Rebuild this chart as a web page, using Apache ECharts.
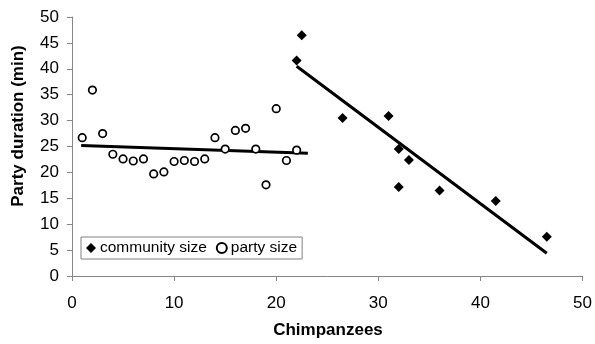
<!DOCTYPE html>
<html>
<head>
<meta charset="utf-8">
<script src="https://cdn.jsdelivr.net/npm/echarts@6/dist/echarts.min.js"></script>
<style>html,body{margin:0;padding:0;background:#fff}#c{width:595px;height:344px}</style>
</head>
<body>
<div id="c"></div>
<script>
// party size (open circles)
const partyX = [1,2,3,4,5,6,7,8,9,10,11,12,13,14,15,16,17,18,19,20,21,22];
const partyY = [26.7,35.9,27.5,23.5,22.6,22.2,22.6,19.7,20.1,22.1,22.3,22.1,22.6,26.7,24.5,28.1,28.5,24.5,17.6,32.3,22.3,24.3];
// community size (filled diamonds)
const commX = [22.5,22.0,26.5,31.0,32.0,33.0,32.0,36.0,41.5,46.5];
const commY = [46.5,41.6,30.5,30.9,24.5,22.4,17.2,16.5,14.5,7.6];
// trend line end points
const partyTrendX = [0.9,23.1];
const partyTrendY = [25.2,23.7];
const commTrendX = [22.0,46.5];
const commTrendY = [40.5,4.4];
// axis ticks
const xTicks = [0,10,20,30,40,50];
const yTicks = [0,5,10,15,20,25,30,35,40,45,50];

const zip = (a,b) => a.map((v,i)=>[v,b[i]]);
const FONT = 'Liberation Sans, Arial, sans-serif';
const axisGray = '#868686';

const chart = echarts.init(document.getElementById('c'), null, {renderer:'canvas'});
chart.setOption({
  animation:false,
  backgroundColor:'#fff',
  grid:{left:72, right:10, top:17, bottom:68, containLabel:false},
  xAxis:{
    type:'value', min:xTicks[0], max:xTicks[xTicks.length-1], interval:10,
    axisLine:{show:true, onZero:false, lineStyle:{color:axisGray, width:1}},
    axisTick:{show:true, length:5, lineStyle:{color:axisGray}},
    axisLabel:{color:'#000', fontFamily:FONT, fontSize:17, margin:19},
    splitLine:{show:false}
  },
  yAxis:{
    type:'value', min:yTicks[0], max:yTicks[yTicks.length-1], interval:5,
    axisLine:{show:true, onZero:false, lineStyle:{color:axisGray, width:1}},
    axisTick:{show:true, length:5, lineStyle:{color:axisGray}},
    axisLabel:{color:'#000', fontFamily:FONT, fontSize:17, margin:13},
    splitLine:{show:false}
  },
  legend:{
    left:81, top:237,
    orient:'horizontal',
    padding:[3,5,3,5],
    borderColor:'#808080', borderWidth:1,
    itemWidth:10, itemHeight:10, itemGap:9,
    textStyle:{color:'#000', fontFamily:FONT, fontSize:15.5, padding:[0,0,0,-1]},
    data:[
      {name:'community size', icon:'diamond'},
      {name:'party size', icon:'circle'}
    ]
  },
  graphic:[
    {type:'text', x:18, y:126, rotation:Math.PI/2,
     style:{text:'Party duration (min)', fill:'#000', font:'bold 17px '+FONT, align:'center', verticalAlign:'middle'}},
    {type:'text', x:328, y:330,
     style:{text:'Chimpanzees', fill:'#000', font:'bold 17px '+FONT, align:'center', verticalAlign:'middle'}}
  ],
  series:[
    {name:'community trend', type:'line', data:zip(commTrendX, commTrendY), symbol:'none',
     lineStyle:{color:'#000', width:3}, z:2, silent:true},
    {name:'party trend', type:'line', data:zip(partyTrendX, partyTrendY), symbol:'none',
     lineStyle:{color:'#000', width:3}, z:2, silent:true},
    {name:'community size', type:'scatter', data:zip(commX, commY), symbol:'diamond', symbolSize:10,
     itemStyle:{color:'#000', opacity:1}, z:3},
    {name:'party size', type:'scatter', data:zip(partyX, partyY), symbol:'circle', symbolSize:7.5,
     itemStyle:{color:'#fff', borderColor:'#000', borderWidth:1.7, opacity:1}, z:3}
  ]
});
</script>
</body>
</html>
